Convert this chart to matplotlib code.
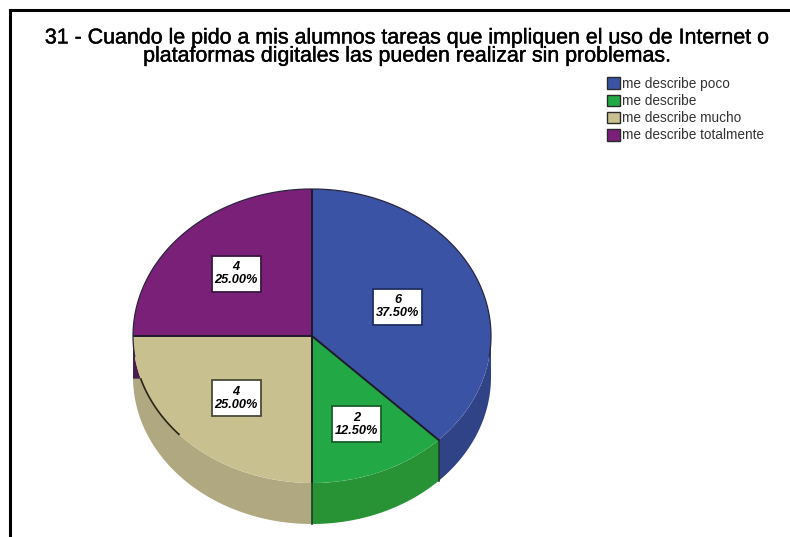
import numpy as np
from matplotlib import pyplot as plt
from matplotlib import patheffects
from matplotlib.patches import Patch, Polygon, Rectangle
from matplotlib.lines import Line2D

plt.rcParams['font.family'] = ['Liberation Sans', 'DejaVu Sans']

titulo = "31 - Cuando le pido a mis alumnos tareas que impliquen el uso de Internet o\nplataformas digitales las pueden realizar sin problemas."
categorias = ["me describe poco", "me describe", "me describe mucho", "me describe totalmente"]
valores = [6, 2, 4, 4]
etiquetas = ["6\n37.50%", "2\n12.50%", "4\n25.00%", "4\n25.00%"]
colores = ["#3B53A4", "#22A845", "#C9C08F", "#7A2079"]
colores_lado = ["#2F4386", "#289335", "#AFA880", "#4A1D4E"]
bordes = ["#1F2F66", "#14602A", "#4A4A38", "#3A1840"]
radio_etiqueta = [0.52, 0.65, 0.6, 0.6]

W, H = 790, 537
cx, cy, rx, ry = 312, 336, 179, 147
prof = 41 / ry  # thickness of the pie, in radius units

fig = plt.figure(figsize=(W / 100, H / 100), dpi=100)
ax = fig.add_axes([(cx - rx) / W, 1 - (cy + ry) / H, 2 * rx / W, 2 * ry / H])
ax.set_axis_off()

# side wall first, the top face goes over it
total = sum(valores)
ang = 90.0
rangos = []
for v in valores:
    rangos.append((ang - 360.0 * v / total, ang))
    ang -= 360.0 * v / total

for (a, b), c in zip(rangos, colores_lado):
    a2, b2 = max(a, -180), min(b, 0)
    if a2 >= b2:
        continue
    t = np.radians(np.linspace(a2, b2, 80))
    xs = np.cos(t)
    ys = np.sin(t)
    pts = np.r_[np.c_[xs, ys], np.c_[xs, ys - prof][::-1]]
    ax.add_patch(Polygon(pts, closed=True, fc=c, ec="none", zorder=1, clip_on=False))

wedges, _ = ax.pie(valores, colors=colores, startangle=90, counterclock=False, radius=1,
                   wedgeprops=dict(linewidth=0))
for w in wedges:
    w.set_zorder(3)
ax.set_aspect('auto')
ax.set_xlim(-1, 1)
ax.set_ylim(-1, 1)

# dark radial lines between slices
for a, b in rangos:
    m = np.radians(b)
    ax.add_line(Line2D([0, np.cos(m)], [0, np.sin(m)], color="#1E1A2A", lw=1.4, zorder=4))

# thin outline on the back half only, the front has none
t = np.radians(np.linspace(-8, 188, 200))
ax.add_line(Line2D(np.cos(t), np.sin(t), color="#2A2440", lw=0.9, zorder=4, clip_on=False))

# lines down the wall where slices meet, at the front
for grados in [-45, -90]:
    x0 = np.cos(np.radians(grados))
    y0 = np.sin(np.radians(grados))
    ax.add_line(Line2D([x0, x0], [y0, y0 - prof], color="#14401F", lw=1.2, zorder=2, clip_on=False))

# bit of the dark wall showing at the left of the tan slice
t = np.radians(np.linspace(180, 196.6, 20))
ax.add_patch(Polygon(np.r_[[[-1, 0]], [[-1, -0.29]], [[-0.96, -0.29]], np.c_[np.cos(t), np.sin(t)][::-1]],
                     closed=True, fc=colores_lado[3], ec="none", zorder=2, clip_on=False))
t = np.radians(np.linspace(197, 222, 30))
ax.add_line(Line2D(np.cos(t), np.sin(t), color="#2A2418", lw=1.2, zorder=4))

caja_w = 49 / rx
caja_h = 36 / ry
for (a, b), txt, r, e in zip(rangos, etiquetas, radio_etiqueta, bordes):
    m = np.radians((a + b) / 2)
    lx = r * np.cos(m)
    ly = r * np.sin(m)
    ax.add_patch(Rectangle((lx - caja_w / 2, ly - caja_h / 2), caja_w, caja_h, fc="white", ec=e, lw=1.3, zorder=5))
    ax.text(lx, ly, txt, ha="center", va="center", fontsize=9.2,
            fontweight="bold", fontstyle="italic", color="black", linespacing=1.12, zorder=6)

tt = fig.text(407 / W, 1 - 47 / H, titulo, ha="center", va="center", fontsize=15.4, color="black",
              linespacing=0.94)
tt.set_path_effects([patheffects.withStroke(linewidth=0.3, foreground="black")])

handles = [Patch(fc=c, ec="#2A2A2A", lw=1) for c in colores]
fig.legend(handles, categorias, loc="upper left", bbox_to_anchor=(607 / W, 1 - 77 / H), frameon=False,
           fontsize=9.8, labelcolor="#333333", handlelength=0.95, handleheight=0.95,
           handletextpad=0.17, labelspacing=0.23, borderpad=0, borderaxespad=0)

# frame of the screenshot, only top and left
fig.add_artist(Line2D([10 / W, 1], [1 - 9.5 / H, 1 - 9.5 / H], color="black", lw=2.2))
fig.add_artist(Line2D([10 / W, 10 / W], [0, 1 - 9.5 / H], color="black", lw=2.2))

fig.savefig("out.png", dpi=100)
